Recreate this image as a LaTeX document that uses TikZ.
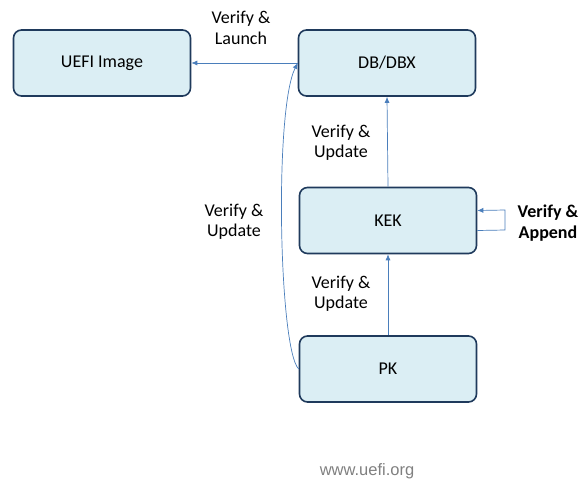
\documentclass[tikz,border=0pt]{standalone}
\usepackage{fontspec}
\setmainfont{Carlito}
\newfontfamily\webfont{Liberation Sans}
\usetikzlibrary{arrows.meta}
\definecolor{boxfill}{HTML}{DBEEF4}
\definecolor{boxline}{HTML}{1F3A5C}
\definecolor{conn}{HTML}{4A7EBB}
\tikzset{
  keybox/.style={draw=boxline, line width=1.6pt, fill=boxfill, rounded corners=8pt,
    minimum width=177pt, minimum height=66pt, inner sep=0pt, font=\fontsize{18}{21}\selectfont},
  lbl/.style={align=center, font=\fontsize{18}{20.5}\selectfont, inner sep=0pt},
  conn/.style={draw=conn, line width=0.7pt, -{Latex[length=6pt,width=5pt]}}
}
\begin{document}
\begin{tikzpicture}[x=1pt,y=-1pt]
\useasboundingbox (0,0) rectangle (581,483);
\node[keybox] (uefi) at (102,63) {\raisebox{-1pt}{UEFI Image}};
\node[keybox] (db) at (387,63) {\raisebox{-1pt}{DB/DBX}};
\node[keybox] (kek) at (388,220.5) {\raisebox{-1pt}{KEK}};
\node[keybox] (pk) at (388,369) {\raisebox{-1pt}{PK}};

\draw[conn] (db.west) -- (uefi.east);
\draw[conn] (kek.north) -- (db.south);
\draw[conn] (pk.north) -- (kek.south);
\draw[conn] (pk.west) .. controls (279,350) and (274,110) .. (db.west);
\coordinate (kr1) at (505,230);
\coordinate (kr2) at (505,210);
\draw[conn] ([yshift=-10pt]kek.east) -- (kr1) -- (kr2) -- ([yshift=10pt]kek.east);

\node[lbl] (l1) at (241,28) {Verify \&\\Launch};
\node[lbl] (l2) at (341,143) {Verify \&\\Update};
\node[lbl] (l3) at (234,222) {Verify \&\\Update};
\node[lbl] (l4) at (341,294) {Verify \&\\Update};
\node[lbl, font=\fontsize{18}{20.5}\selectfont\bfseries] (l5) at (548,223) {Verify \&\\Append};
\node[inner sep=0pt, font=\webfont\fontsize{16.5}{20}\selectfont, text=black!50] (web) at (367,471) {www.uefi.org};
\end{tikzpicture}
\end{document}
